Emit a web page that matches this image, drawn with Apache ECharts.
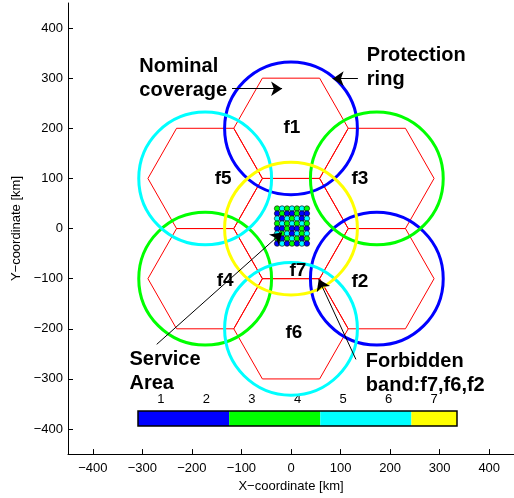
<!DOCTYPE html>
<html><head><meta charset="utf-8">
<script src="https://cdn.jsdelivr.net/npm/echarts@6/dist/echarts.min.js"></script>
<style>html,body{margin:0;padding:0;background:#fff}#c{width:514px;height:498px}</style>
</head><body><div id="c"></div>
<script>
// Cells (hexagon centres, km) and the channel of each protection ring
const cellNames = ['f1','f2','f3','f4','f5','f6','f7'];
const cellX = [0, 173.2, 173.2, -173.2, -173.2, 0, 0];
const cellY = [200, -100, 100, -100, 100, -200, 0];
const cellChannel = [1, 1, 3, 3, 5, 5, 7];
const hexRadius = 115.5;
const ringRadius = 134;
const cellLabelX = [2, 139, 139, -133, -137, 6, 14];
const cellLabelY = [201, -107, 100, -105, 100, -207, -84];
// Colour bar
const barLabels = ['1','2','3','4','5','6','7'];
const barColors = ['#0000ff','#0000ff','#00ff00','#00ff00','#00ffff','#00ffff','#ffff00'];
// Axis ticks
const tickValues = [-400,-300,-200,-100,0,100,200,300,400];
// Service area grid points and their channel
const serviceX = [-28,-18,-8,2,12,22,32];
const serviceY = [40,30,20,10,0,-10,-20,-30];
const serviceChannel = [
  [3,5,3,5,3,5,3],
  [1,3,1,1,3,1,1],
  [5,1,5,3,5,1,5],
  [3,5,3,5,3,5,3],
  [1,1,3,1,1,3,1],
  [5,3,5,1,5,3,5],
  [3,1,3,5,3,1,3],
  [1,5,1,3,1,5,1]
];
// Annotations
const noteTexts = ['Nominal\ncoverage','Protection\nring','Service\nArea','Forbidden\nband:f7,f6,f2'];
const noteX = [-306, 153, -326, 151];
const noteY = [300, 322, -285, -289];
const arrowFrom = [[-119,279],[135,299],[-271,-231],[131,-261]];
const arrowTo = [[-18,279],[84,299],[-18,-8],[56,-101]];

const FONT = 'Liberation Sans, Arial, Helvetica, sans-serif';
const fmt = v => v < 0 ? '\u2212' + Math.abs(v) : String(v);

const cellData = cellX.map((x,i) => [x, cellY[i], cellChannel[i]]);
const serviceData = [];
serviceY.forEach((y,r) => serviceX.forEach((x,c) => serviceData.push([x, y, serviceChannel[r][c]])));
// merge consecutive equal colours of the colour bar into runs [start, end, colourIndex]
const barRuns = [];
barColors.forEach((c,i) => {
  const last = barRuns[barRuns.length-1];
  if (last && barColors[last[2]] === c) last[1] = i; else barRuns.push([i, i, i]);
});

const chart = echarts.init(document.getElementById('c'), null, {renderer:'canvas'});
chart.setOption({
  animation: false,
  backgroundColor: '#fff',
  grid: [
    {left: 68, top: 3, width: 452, height: 452, containLabel: false},
    {left: 138, top: 411, width: 319, height: 15, show: false}
  ],
  xAxis: [
    {type: 'value', min: -450, max: 450, gridIndex: 0,
     name: 'X\u2212coordinate [km]', nameLocation: 'middle', nameGap: 22,
     nameTextStyle: {fontFamily: FONT, fontSize: 13, color: '#000'},
     axisLine: {show: true, onZero: false, lineStyle: {color: '#000', width: 1}},
     axisTick: {show: true, inside: true, length: 5, customValues: tickValues, lineStyle: {color: '#000'}},
     axisLabel: {customValues: tickValues, formatter: fmt, fontFamily: FONT, fontSize: 13, color: '#000', margin: 8},
     splitLine: {show: false}},
    {type: 'category', gridIndex: 1, data: barLabels, position: 'top',
     axisLine: {show: false}, axisTick: {show: false}, splitLine: {show: false},
     axisLabel: {fontFamily: FONT, fontSize: 13, color: '#000', margin: 5}}
  ],
  yAxis: [
    {type: 'value', min: -450, max: 450, gridIndex: 0,
     name: 'Y\u2212coordinate [km]', nameLocation: 'middle', nameGap: 42, nameRotate: 90,
     nameTextStyle: {fontFamily: FONT, fontSize: 13, color: '#000'},
     axisLine: {show: true, onZero: false, lineStyle: {color: '#000', width: 1}},
     axisTick: {show: true, inside: true, length: 5, customValues: tickValues, lineStyle: {color: '#000'}},
     axisLabel: {customValues: tickValues, formatter: fmt, fontFamily: FONT, fontSize: 13, color: '#000', margin: 5},
     splitLine: {show: false}},
    {type: 'value', gridIndex: 1, min: 0, max: 1, show: false, splitLine: {show: false}}
  ],
  series: [
    {type: 'custom', name: 'hex', xAxisIndex: 0, yAxisIndex: 0, z: 2, clip: false,
     data: cellData,
     renderItem: (params, api) => {
       const cx = api.value(0), cy = api.value(1);
       const pts = [0,60,120,180,240,300].map(a => api.coord([cx + hexRadius*Math.cos(a*Math.PI/180), cy + hexRadius*Math.sin(a*Math.PI/180)]));
       return {type: 'polygon', shape: {points: pts}, style: {fill: 'none', stroke: '#ff0000', lineWidth: 1}};
     }},
    {type: 'custom', name: 'ring', xAxisIndex: 0, yAxisIndex: 0, z: 3, clip: false,
     data: cellData,
     renderItem: (params, api) => {
       const c = api.coord([api.value(0), api.value(1)]);
       const r = api.size([ringRadius, 0])[0];
       return {type: 'circle', shape: {cx: c[0], cy: c[1], r: r}, style: {fill: 'none', stroke: barColors[api.value(2)-1], lineWidth: 3}};
     }},
    {type: 'scatter', name: 'service', xAxisIndex: 0, yAxisIndex: 0, z: 4,
     data: serviceData, symbolSize: 5.5,
     itemStyle: {color: p => barColors[p.value[2]-1], borderColor: '#000', borderWidth: 0.6, opacity: 1}},
    {type: 'lines', coordinateSystem: 'cartesian2d', xAxisIndex: 0, yAxisIndex: 0, z: 5,
     data: arrowFrom.map((f,i) => ({coords: [f, arrowTo[i]]})),
     symbol: ['none','arrow'], symbolSize: [0, 11],
     lineStyle: {color: '#000', width: 1, opacity: 1}},
    {type: 'scatter', name: 'cellLabels', xAxisIndex: 0, yAxisIndex: 0, z: 6, symbolSize: 0,
     itemStyle: {opacity: 1},
     data: cellNames.map((n,i) => ({name: n, value: [cellLabelX[i], cellLabelY[i]]})),
     label: {show: true, position: 'inside', formatter: p => p.name, fontFamily: FONT, fontWeight: 'bold', fontSize: 19, color: '#000', opacity: 1, align: 'center', verticalAlign: 'middle'}},
    {type: 'scatter', name: 'notes', xAxisIndex: 0, yAxisIndex: 0, z: 6, symbolSize: 0,
     itemStyle: {opacity: 1},
     data: noteTexts.map((t,i) => ({name: t, value: [noteX[i], noteY[i]]})),
     label: {show: true, position: 'inside', formatter: p => p.name, fontFamily: FONT, fontWeight: 'bold', fontSize: 20, lineHeight: 24, color: '#000', opacity: 1, align: 'left', verticalAlign: 'middle'}},
    {type: 'custom', name: 'colorbar', xAxisIndex: 1, yAxisIndex: 1, z: 9, clip: false,
     data: barRuns,
     renderItem: (params, api) => {
       const s = api.value(0), e = api.value(1);
       const bw = api.size([1, 0])[0];
       const p0 = api.coord([s, 1]), p1 = api.coord([e, 0]);
       const x0 = p0[0] - bw/2, x1 = p1[0] + bw/2;
       return {type: 'rect', shape: {x: x0, y: p0[1], width: x1 - x0, height: p1[1] - p0[1]},
               style: {fill: barColors[api.value(2)], stroke: null}};
     }},
    {type: 'custom', name: 'colorbarFrame', xAxisIndex: 1, yAxisIndex: 1, z: 10, clip: false,
     data: [[0, barLabels.length - 1]],
     renderItem: (params, api) => {
       const bw = api.size([1, 0])[0];
       const p0 = api.coord([api.value(0), 1]), p1 = api.coord([api.value(1), 0]);
       const x0 = p0[0] - bw/2, x1 = p1[0] + bw/2;
       return {type: 'rect', shape: {x: x0, y: p0[1], width: x1 - x0, height: p1[1] - p0[1]},
               style: {fill: 'none', stroke: '#000', lineWidth: 1.5}};
     }}
  ]
});
</script></body></html>
